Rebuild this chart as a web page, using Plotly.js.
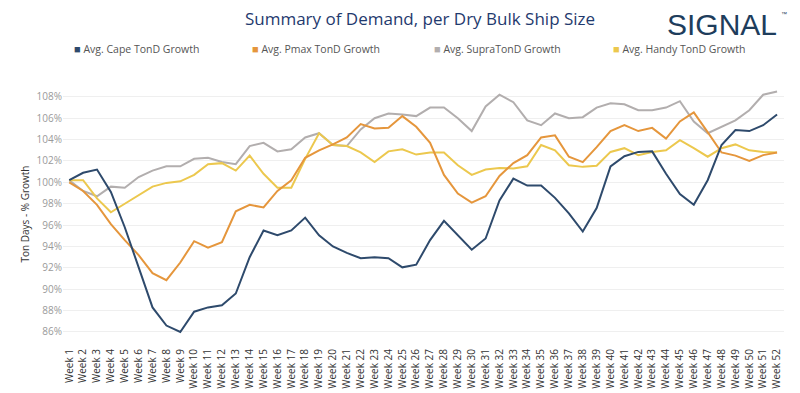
<!DOCTYPE html>
<html>
<head>
<meta charset="utf-8">
<script src="https://cdn.plot.ly/plotly-3.0.1.min.js"></script>
<style>
html,body{margin:0;padding:0;background:#fff;}
#chart{width:800px;height:393px;}
</style>
</head>
<body>
<div id="chart"></div>
<script>
var weeks = [];
for (var i = 1; i <= 52; i++) weeks.push('Week ' + i);

var seriesNames = ['Avg. Cape TonD Growth', 'Avg. Pmax TonD Growth', 'Avg. SupraTonD Growth', 'Avg. Handy TonD Growth'];

var cape = [100.2,100.9,101.2,99.1,95.8,92.1,88.3,86.6,86.0,87.9,
            88.3,88.5,89.6,93.0,95.5,95.05,95.5,96.7,95.05,94.0,
            93.4,92.9,93.0,92.9,92.05,92.3,94.6,96.4,95.0,93.7,
            94.75,98.3,100.35,99.7,99.7,98.55,97.1,95.4,97.6,101.5,
            102.45,102.85,102.9,100.8,98.9,97.9,100.2,103.5,104.9,104.8,105.35,106.35];

var pmax = [100.0,99.2,97.9,96.1,94.6,93.2,91.5,90.85,92.5,94.5,
            93.9,94.4,97.3,97.9,97.65,99.2,100.2,102.3,103.0,103.55,
            104.2,105.45,105.05,105.1,106.2,105.2,103.7,100.7,98.95,98.1,
            98.7,100.6,101.8,102.55,104.2,104.4,102.4,101.9,103.3,104.8,
            105.35,104.8,105.1,104.1,105.7,106.55,104.7,102.8,102.5,102.0,102.55,102.8];

var supra = [100.2,99.2,98.7,99.6,99.5,100.5,101.1,101.5,101.5,102.2,
             102.3,101.9,101.7,103.4,103.7,102.9,103.1,104.2,104.6,103.5,
             103.4,104.95,106.0,106.45,106.35,106.2,107.0,107.0,106.0,104.8,
             107.1,108.2,107.5,105.8,105.35,106.45,106.0,106.1,107.0,107.4,
             107.3,106.75,106.75,107.0,107.6,105.7,104.6,105.2,105.8,106.75,108.2,108.5];

var handy = [100.2,100.2,98.5,97.2,98.0,98.8,99.6,99.95,100.1,100.7,
             101.7,101.8,101.1,102.5,100.8,99.5,99.5,102.2,104.6,103.5,
             103.4,102.8,101.9,102.9,103.1,102.6,102.8,102.8,101.6,100.7,
             101.2,101.35,101.3,101.5,103.5,103.0,101.6,101.45,101.55,102.85,
             103.2,102.55,102.85,103.0,103.95,103.2,102.4,103.2,103.55,103.0,102.85,102.8];

var yTicks = [86,88,90,92,94,96,98,100,102,104,106,108];

var colors = ['#2e4a6c', '#e5963c', '#b2aeae', '#ecc84e'];
var allSeries = [cape, pmax, supra, handy];

// draw order: supra, handy, pmax, cape
var order = [2, 3, 1, 0];
var traces = order.map(function (k) {
  return {
    x: weeks, y: allSeries[k], type: 'scatter', mode: 'lines',
    name: seriesNames[k], showlegend: false,
    line: {color: colors[k], width: 2},
    hoverinfo: 'x+y+name'
  };
});

var plotL = 63, plotW = 721;
var legendPx = [72, 250, 432, 611];
var annotations = seriesNames.map(function (n, k) {
  return {
    xref: 'paper', yref: 'paper',
    x: (legendPx[k] - plotL) / plotW, y: 1 + (88 - 48) / 252,
    xanchor: 'left', yanchor: 'middle', showarrow: false,
    text: '<span style="color:' + colors[k] + ';font-size:11px">&#9632;</span> ' + n,
    font: {family: 'Open Sans, sans-serif', size: 10.5, color: '#555'}
  };
});
annotations.push({
  xref: 'paper', yref: 'paper',
  x: (722 - plotL) / plotW, y: 1 + (88 - 24) / 252,
  xanchor: 'center', yanchor: 'middle', showarrow: false,
  text: 'SIGNAL',
  font: {family: 'Liberation Sans, Arial, sans-serif', size: 30, color: '#1e3d5c'}
});
annotations.push({
  xref: 'paper', yref: 'paper',
  x: (784 - plotL) / plotW, y: 1 + (88 - 14) / 252,
  xanchor: 'center', yanchor: 'middle', showarrow: false,
  text: '\u2122',
  font: {family: 'Liberation Sans, Arial, sans-serif', size: 6, color: '#1e3d5c'}
});

var layout = {
  width: 800, height: 393,
  margin: {l: plotL, r: 800 - plotL - plotW, t: 88, b: 53},
  paper_bgcolor: '#ffffff', plot_bgcolor: '#ffffff',
  font: {family: 'Open Sans, sans-serif', color: '#333'},
  title: {
    text: 'Summary of Demand, per Dry Bulk Ship Size',
    x: 420 / 800, xanchor: 'center', xref: 'container',
    y: 1 - 19 / 393, yanchor: 'middle', yref: 'container',
    font: {family: 'Open Sans, sans-serif', size: 17, color: '#1f3a6e'}
  },
  xaxis: {
    type: 'category',
    range: [-0.45, 51.5],
    tickangle: -90,
    tickfont: {size: 10, color: '#333'},
    showgrid: false, zeroline: false, showline: false,
    ticks: 'outside', ticklen: 4, tickcolor: 'rgba(0,0,0,0)',
    automargin: false, fixedrange: true
  },
  yaxis: {
    range: [85.25, 108.83],
    tickvals: yTicks,
    ticktext: yTicks.map(function (v) { return v + '%'; }),
    tickfont: {size: 10, color: '#9a9a9a'},
    showgrid: true, gridcolor: '#efefef', gridwidth: 1,
    zeroline: false, showline: false, ticks: '',
    automargin: false, fixedrange: true,
    title: {text: 'Ton Days - % Growth', font: {size: 10, color: '#333'}, standoff: 5}
  },
  showlegend: false,
  annotations: annotations
};

Plotly.newPlot('chart', traces, layout, {displayModeBar: false, staticPlot: true});
</script>
</body>
</html>
